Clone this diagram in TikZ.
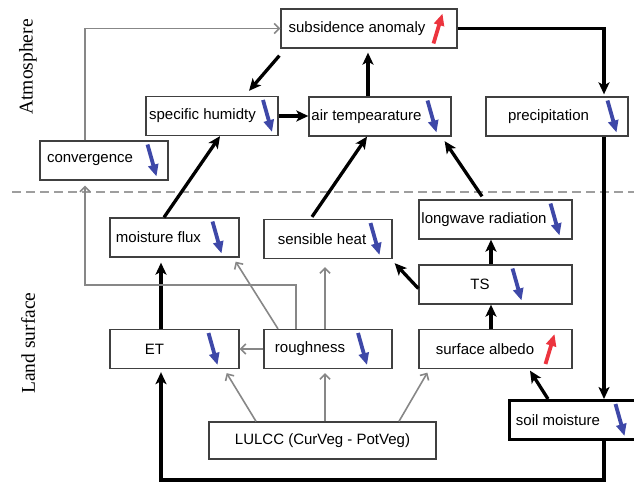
\documentclass[tikz,border=0pt]{standalone}
\usepackage{fontspec}
\setmainfont{Liberation Sans}
\newfontfamily\sidefont{Liberation Serif}
\usetikzlibrary{arrows.meta, positioning, calc}
\definecolor{trendblue}{RGB}{62,72,168}
\definecolor{trendred}{RGB}{236,52,62}

\newcommand{\trenddown}[2]{\draw[fall] ([xshift=#2-4.5pt,yshift=16pt]#1.center) -- ([xshift=#2+4.5pt,yshift=-16pt]#1.center);}
\newcommand{\trendup}[2]{\draw[rise] ([xshift=#2-4.5pt,yshift=-15pt]#1.center) -- ([xshift=#2+4.5pt,yshift=15pt]#1.center);}

\begin{document}
\begin{tikzpicture}[
        x=1pt, y=-1pt,
        every node/.style={font=\fontsize{15}{18}\selectfont},
        box/.style={rectangle, draw=black!75, line width=1.3pt, minimum height=39pt, inner xsep=0pt, inner ysep=2pt},
        soil/.style={draw=black, line width=3pt},
        side/.style={rotate=90, font=\sidefont\fontsize{19.5}{22}\selectfont},
        line/.style={draw, line width=3.3pt, -{Stealth[length=12pt, width=11pt, inset=3pt]}},
        grayline/.style={draw=black!47, line width=1.6pt, -{Straight Barb[length=5pt, width=10pt]}},
        fall/.style={draw=trendblue, line width=3.8pt, -{Triangle[length=12pt, width=10pt]}},
        rise/.style={draw=trendred, line width=3.8pt, -{Triangle[length=12pt, width=10pt]}},
    ]
    \useasboundingbox (0,0) rectangle (634,487);

    % Side labels and divider
    \node [side] (atm) at (28,67) {Atmosphere};
    \node [side] (land) at (28,343) {Land surface};
    \draw [black!38, line width=1.4pt, dash pattern=on 9pt off 5pt] (12,192) -- (634,192);

    % Nodes
    \node [box, minimum width=176pt] (subs) at (369,28.5) {subsidence anomaly\hspace*{24pt}};
    \node [box, minimum width=132pt] (spec) at (212,116) {specific humidty\hspace*{19pt}};
    \node [box, minimum width=142pt] (air) at (380,116.5) {air tempearature\hspace*{27pt}};
    \node [box, minimum width=142pt] (precip) at (557,116.5) {precipitation\hspace*{17pt}};
    \node [box, minimum width=128pt] (conv) at (104,160.5) {convergence\hspace*{28pt}};
    \node [box, minimum width=129pt] (ET) at (174.5,349) {ET\hspace*{40pt}};
    \node [box, minimum width=129pt, node distance=111.5pt, above of=ET] (mflux) {moisture flux\hspace*{32pt}};
    \node [box, minimum width=128pt, node distance=153.5pt, right of=ET] (rough) {roughness\hspace*{36pt}};
    \node [box, minimum width=128pt, node distance=110pt, above of=rough] (sens) {sensible heat\hspace*{12pt}};
    \node [box, minimum width=153pt, node distance=167.5pt, right of=rough] (albedo) {surface albedo\hspace*{21pt}};
    \node [box, minimum width=153pt, node distance=64.5pt, above of=albedo] (TS) {TS\hspace*{31pt}};
    \node [box, minimum width=153pt, node distance=65pt, above of=TS] (lw) {longwave radiation\hspace*{23pt}};
    \node [box, soil, minimum width=127pt] (soilm) at (572.5,420) {soil moisture\hspace*{29pt}};
    \node [box, minimum width=227pt, minimum height=37pt] (lulcc) at (322.5,440.5) {LULCC (CurVeg - PotVeg)};

    % Trend arrows
    \trendup{subs}{69pt}
    \trenddown{spec}{55.5pt}
    \trenddown{air}{52pt}
    \trenddown{precip}{55pt}
    \trenddown{conv}{48pt}
    \trenddown{mflux}{42.5pt}
    \trenddown{sens}{47pt}
    \trenddown{lw}{59.5pt}
    \trenddown{TS}{21.5pt}
    \trenddown{ET}{38.5pt}
    \trenddown{rough}{34.5pt}
    \trendup{albedo}{54.5pt}
    \trenddown{soilm}{47.5pt}

    % Black arrows
    \path [line] ([xshift=-1pt,yshift=-7pt]subs.south west) -- ([xshift=37pt,yshift=5pt]spec.north);
    \path [line] (spec.east) -- (spec.east -| air.west);
    \path [line] ([xshift=-12pt]air.north) -- ([xshift=-12pt,yshift=-4pt]air.north |- subs.south);
    \path [line] (subs.east) -| ([xshift=47pt,yshift=2pt]precip.north);
    \path [line] ([xshift=47pt]precip.south) -- ([xshift=47pt]precip.south |- soilm.north);
    \path [line] ([xshift=31.5pt]soilm.south) -- ++(0,39) -| ([xshift=-13.5pt,yshift=-3pt]ET.south);
    \path [line] ([xshift=-24.5pt]soilm.north) -- ([xshift=34.5pt,yshift=-1.5pt]albedo.south);
    \path [line] ([xshift=-4.5pt]albedo.north) -- ([xshift=-4.5pt]TS.south);
    \path [line] ([xshift=-4.5pt]TS.north) -- ([xshift=-4.5pt]lw.south);
    \path [line] ([yshift=-4pt]TS.west) -- ([xshift=2pt,yshift=-4pt]sens.south east);
    \path [line] ([xshift=-13.5pt,yshift=3pt]lw.north) -- ([xshift=-7pt,yshift=-4.5pt]air.south east);
    \path [line] ([xshift=-16pt,yshift=2pt]sens.north) -- ([xshift=-13pt]air.south);
    \path [line] ([xshift=-10.5pt]mflux.north) -- ([xshift=8pt]spec.south);
    \path [line] ([xshift=-13.5pt]ET.north) -- ([xshift=-13.5pt,yshift=-5pt]mflux.south);

    % Gray arrows
    \path [grayline] ([xshift=-19pt]conv.north) |- (subs.west);
    \path [grayline] (rough.west) -- (rough.west -| ET.east);
    \path [grayline] ([xshift=-50pt]rough.north) -- ([xshift=-4pt,yshift=-4pt]mflux.south east);
    \path [grayline] ([xshift=-32pt]rough.north) -- ++(0,-44) -| ([xshift=-19pt,yshift=-5pt]conv.south);
    \path [grayline] ([xshift=-3pt]rough.north) -- ([xshift=-3pt,yshift=-8pt]sens.south);
    \path [grayline] ([xshift=-66.5pt]lulcc.north) -- ([xshift=-13pt,yshift=-4pt]ET.south east);
    \path [grayline] ([xshift=2.5pt]lulcc.north) -- ([xshift=-3pt,yshift=-4pt]rough.south);
    \path [grayline] ([xshift=76.5pt]lulcc.north) -- ([xshift=9pt,yshift=-3.5pt]albedo.south west);

\end{tikzpicture}
\end{document}
